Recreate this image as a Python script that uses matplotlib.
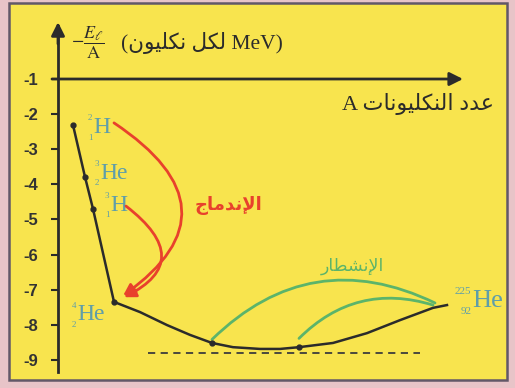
"""
binding energy per nucleon vs nucleon number (schematic)
fusion on the light side, fission on the heavy side
"""

import matplotlib.pyplot as plt
from matplotlib.patches import Rectangle

# curve (A is schematic, not to scale)
curve_a = [15, 27, 35, 56, 82, 109, 132, 154, 175, 202, 222, 241, 275, 309, 342, 375, 389]
curve_e = [-2.31, -3.79, -4.70, -7.35, -7.64, -8.01, -8.29, -8.52, -8.64, -8.69,
           -8.69, -8.64, -8.52, -8.24, -7.87, -7.52, -7.44]
dot_idx = [0, 1, 2, 3, 7, 11]

y_ticks = [-1, -2, -3, -4, -5, -6, -7, -8, -9]

# dashed reference level
ref_a = [90, 362]
ref_e = -8.80

# nuclide labels: symbol, mass number, atomic number
nuc_sym = ['H', 'He', 'H', 'He', 'He']
nuc_mass = ['2', '3', '3', '4', '225']
nuc_z = ['1', '2', '1', '2', '92']
nuc_a = [35, 42, 52, 19, 414]
nuc_e = [-2.37, -3.68, -4.59, -7.72, -7.32]

YELLOW = '#f8e44e'
PINK = '#e8c4c8'
INK = '#2b2b2b'
TEAL = '#5f9ea9'
RED = '#e8412c'
GREEN = '#5cb46a'

# contextual forms: isolated, final, initial, medial (None = no join to the left)
ARABIC_FORMS = {
    'ا': ('\ufe8d', '\ufe8e', None, None),
    'إ': ('\ufe87', '\ufe88', None, None),
    'ت': ('\ufe95', '\ufe96', '\ufe97', '\ufe98'),
    'ج': ('\ufe9d', '\ufe9e', '\ufe9f', '\ufea0'),
    'د': ('\ufea9', '\ufeaa', None, None),
    'ر': ('\ufead', '\ufeae', None, None),
    'ش': ('\ufeb5', '\ufeb6', '\ufeb7', '\ufeb8'),
    'ط': ('\ufec1', '\ufec2', '\ufec3', '\ufec4'),
    'ع': ('\ufec9', '\ufeca', '\ufecb', '\ufecc'),
    'ك': ('\ufed9', '\ufeda', '\ufedb', '\ufedc'),
    'ل': ('\ufedd', '\ufede', '\ufedf', '\ufee0'),
    'م': ('\ufee1', '\ufee2', '\ufee3', '\ufee4'),
    'ن': ('\ufee5', '\ufee6', '\ufee7', '\ufee8'),
    'و': ('\ufeed', '\ufeee', None, None),
    'ي': ('\ufef1', '\ufef2', '\ufef3', '\ufef4'),
    'لإ': ('\ufef9', '\ufefa', None, None),
    'لا': ('\ufefb', '\ufefc', None, None),
}


def shape_rtl(text):
    """matplotlib does no arabic shaping, so pick the joined glyphs by hand
    and return them in visual (left to right) order."""
    letters = []
    i = 0
    while i < len(text):
        if text[i] == 'ل' and text[i + 1:i + 2] in ('ا', 'إ'):
            letters.append(text[i:i + 2])
            i += 2
        else:
            letters.append(text[i])
            i += 1
    out = []
    for k, ch in enumerate(letters):
        forms = ARABIC_FORMS.get(ch)
        if forms is None:
            out.append(ch)
            continue
        prev = ARABIC_FORMS.get(letters[k - 1]) if k > 0 else None
        nxt = ARABIC_FORMS.get(letters[k + 1]) if k + 1 < len(letters) else None
        join_prev = prev is not None and prev[2] is not None
        join_next = nxt is not None and forms[2] is not None
        if join_prev and join_next:
            out.append(forms[3])
        elif join_prev:
            out.append(forms[1])
        elif join_next:
            out.append(forms[2])
        else:
            out.append(forms[0])
    return ''.join(reversed(out))


def nuclide(ax, x, y, sym, mass, z, size, script):
    ax.text(x, y, sym, color=TEAL, fontsize=size, family='Liberation Serif',
            ha='left', va='center')
    ax.annotate(mass, (x, y), xytext=(-0.5, 6.5), textcoords='offset points',
                color=TEAL, fontsize=script, family='Liberation Serif', ha='right', va='center')
    ax.annotate(z, (x, y), xytext=(-0.5, -7.5), textcoords='offset points',
                color=TEAL, fontsize=script, family='Liberation Serif', ha='right', va='center')


def draw():
    plt.rcParams['mathtext.fontset'] = 'stix'
    fig = plt.figure(figsize=(5.15, 3.88), dpi=100)
    fig.patch.set_facecolor(PINK)
    ax = fig.add_axes([0, 0, 1, 1])
    ax.set_facecolor('none')
    ax.set_xlim(-58, 457)
    ax.set_ylim(-9.803, 1.251)

    # yellow panel with dark frame (axes fill the figure, so axes coords = figure coords)
    ax.add_patch(Rectangle((0.0175, 0.0206), 0.967, 0.971, transform=ax.transAxes,
                           facecolor=YELLOW, edgecolor='#625868', lw=1.8, zorder=0,
                           clip_on=False))

    # y axis through A = 0, ticks on its left
    for side in ['top', 'right', 'bottom']:
        ax.spines[side].set_visible(False)
    ax.spines['left'].set_position(('data', 0))
    ax.spines['left'].set_bounds(-9.35, 0.5)
    ax.spines['left'].set_linewidth(2)
    ax.spines['left'].set_color(INK)
    ax.set_xticks([])
    ax.set_yticks(y_ticks)
    ax.set_yticklabels([str(t) for t in y_ticks])
    ax.tick_params(axis='y', direction='out', length=5, width=1.5, color=INK,
                   labelsize=12, labelcolor='#333333', pad=9)
    for lab in ax.get_yticklabels():
        lab.set_family('Liberation Sans')
        lab.set_weight('bold')

    arrow = dict(arrowstyle='-|>', lw=2, color=INK, mutation_scale=20, shrinkA=0, shrinkB=0)
    ax.annotate('', xy=(0, 0.62), xytext=(0, 0.0), arrowprops=arrow)
    ax.annotate('', xy=(405, -1), xytext=(-6, -1), arrowprops=arrow)

    # axis titles
    ax.text(13, 0.03, r'$-\dfrac{E_\ell}{\mathrm{A}}$', fontsize=13, color=INK,
            ha='left', va='center')
    ax.text(63, 0.03, '(' + shape_rtl('لكل نكليون') + ' MeV)', fontsize=15.5, color=INK,
            family=['Liberation Serif', 'DejaVu Sans'], ha='left', va='center')
    ax.text(436, -1.7, 'A ' + shape_rtl('عدد النكليونات'), fontsize=16, color=INK,
            family=['Liberation Serif', 'DejaVu Sans'], ha='right', va='center')

    # binding energy curve
    ax.plot(curve_a, curve_e, color=INK, lw=1.8, zorder=4)
    ax.plot([curve_a[i] for i in dot_idx], [curve_e[i] for i in dot_idx], 'o',
            color=INK, ms=3.5, zorder=5)
    ax.plot(ref_a, [ref_e, ref_e], color='#3c3c3c', lw=1.3, ls=(0, (4, 3)), zorder=3)

    for x, y, s, m, z in zip(nuc_a, nuc_e, nuc_sym, nuc_mass, nuc_z):
        if m == '225':
            nuclide(ax, x, y, s, m, z, 19, 8)
        else:
            nuclide(ax, x, y, s, m, z, 17, 6.5)

    # fusion: light nuclei -> 4He
    tip = (curve_a[3], curve_e[3])
    fusion = dict(arrowstyle='-|>', lw=2, color=RED, mutation_scale=17, shrinkA=0, shrinkB=8)
    ax.annotate('', xy=tip, xytext=(56, -2.25),
                arrowprops=dict(fusion, connectionstyle='arc3,rad=-0.75'))
    ax.annotate('', xy=tip, xytext=(68, -4.62),
                arrowprops=dict(fusion, connectionstyle='arc3,rad=-0.85'))
    ax.text(170, -4.6, shape_rtl('الإندماج'), color=RED, fontsize=13, weight='bold',
            family='DejaVu Sans', ha='center', va='center')

    # fission: heavy nucleus -> middle of the curve
    fission = dict(arrowstyle='-', lw=2, color=GREEN, shrinkA=0, shrinkB=0)
    ax.annotate('', xy=(377, -7.38), xytext=(curve_a[7], curve_e[7] + 0.1),
                arrowprops=dict(fission, connectionstyle='arc3,rad=-0.35'))
    ax.annotate('', xy=(375, -7.44), xytext=(curve_a[11], curve_e[11] + 0.25),
                arrowprops=dict(fission, connectionstyle='arc3,rad=-0.3'))
    ax.text(294, -6.33, shape_rtl('الإنشطار'), color=GREEN, fontsize=12.5,
            family='DejaVu Sans', ha='center', va='center')

    plt.savefig('out.png', dpi=100, facecolor=PINK)


if __name__ == '__main__':
    draw()
